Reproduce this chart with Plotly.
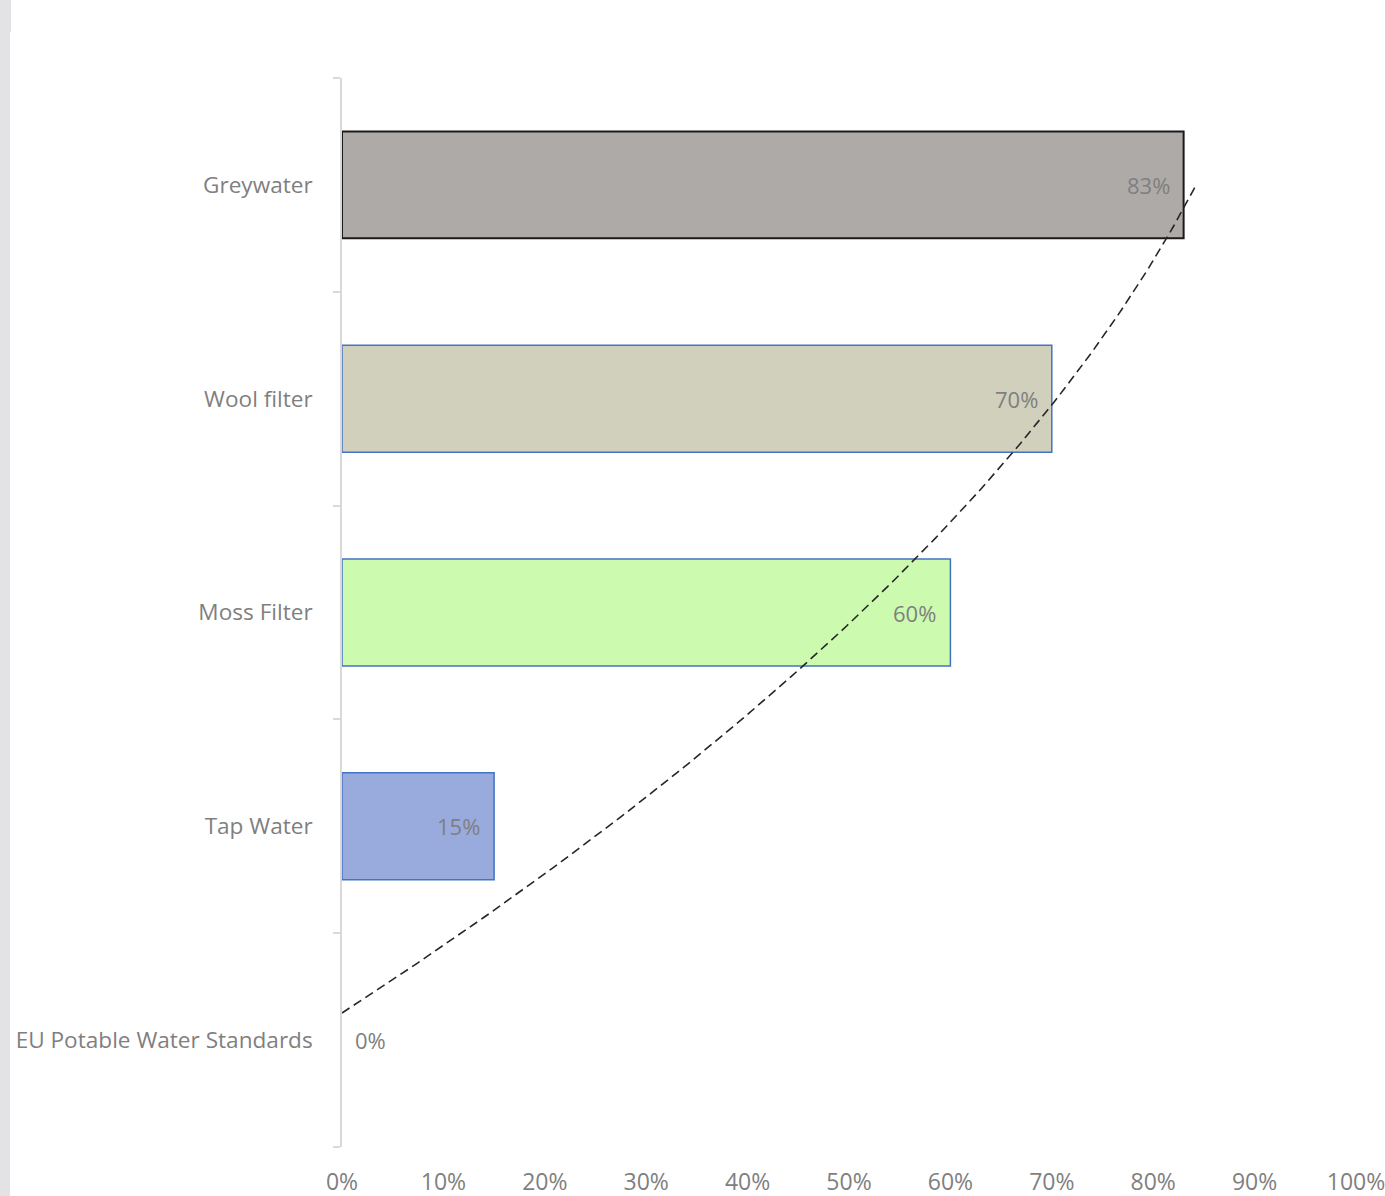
import numpy as np
import plotly.graph_objects as go

categories = ["EU Potable Water Standards", "Tap Water", "Moss Filter", "Wool filter", "Greywater"]
values = [0, 15, 60, 70, 83]  # percent
fill_colors = ["#FFFFFF", "#99AADD", "#CCFBB0", "#D1D0BD", "#AEAAA8"]
line_colors = ["#4472C4", "#4472C4", "#4472C4", "#4472C4", "#1A1A1A"]
x_tick_vals = [0, 10, 20, 30, 40, 50, 60, 70, 80, 90, 100]
x_tick_text = [f"{v}%" for v in x_tick_vals]

W, H = 1385, 1196
ML, MR, MT, MB = 342, 29, 78, 49
PW = W - ML - MR
PH = H - MT - MB

pos = list(range(1, len(categories) + 1))

# polynomial (order 2) trendline, as in the spreadsheet
coef = np.polyfit(pos, values, 2)
root = max(r.real for r in np.roots(coef) if abs(r.imag) < 1e-9 and r.real < pos[0] + 1)
t_idx = np.linspace(root, pos[-1], 200)
t_val = np.polyval(coef, t_idx)

FONT = "Open Sans"
GREY = "#7F7F7F"
FS = 23

line_widths = [0 if v == 0 else (2 if c == "#1A1A1A" else 1.5) for v, c in zip(values, line_colors)]

fig = go.Figure()
fig.add_trace(go.Bar(
    x=values, y=pos, orientation="h",
    marker=dict(color=fill_colors, line=dict(color=line_colors, width=line_widths)),
    width=0.5, hoverinfo="skip", showlegend=False,
))
fig.add_trace(go.Scatter(
    x=t_val, y=t_idx, mode="lines",
    line=dict(color="#262626", width=1.6, dash="9px,5px"),
    hoverinfo="skip", showlegend=False,
))

for v, p in zip(values, pos):
    if v > 0:
        fig.add_annotation(x=v, y=p, text=f"{v}%", showarrow=False, xanchor="right",
                           xshift=-12, font=dict(family=FONT, size=22, color=GREY))
    else:
        fig.add_annotation(x=v, y=p, text=f"{v}%", showarrow=False, xanchor="left",
                           xshift=11, font=dict(family=FONT, size=22, color=GREY))

# light grey strip on the left edge of the picture
fig.add_shape(type="rect", xref="paper", yref="paper",
              x0=-ML / PW, x1=-(ML - 10) / PW, y0=-MB / PH, y1=(H - MB) / PH,
              fillcolor="#E3E3E5", line=dict(width=0), layer="below")
fig.add_shape(type="rect", xref="paper", yref="paper",
              x0=-ML / PW, x1=-(ML - 11) / PW, y0=(H - MB - 32) / PH, y1=(H - MB) / PH,
              fillcolor="#E3E3E5", line=dict(width=0), layer="below")

fig.update_layout(
    width=W, height=H,
    margin=dict(l=ML, r=MR, t=MT, b=MB),
    paper_bgcolor="white", plot_bgcolor="white",
    font=dict(family=FONT, size=FS, color=GREY),
    xaxis=dict(range=[0, 100], tickvals=x_tick_vals, ticktext=x_tick_text,
               showgrid=False, zeroline=False, showline=False, ticks="", automargin=False,
               ticklabeloverflow="allow",
               ticklabelstandoff=19, tickfont=dict(size=FS, color=GREY)),
    yaxis=dict(range=[0.5, len(categories) + 0.5], tickvals=pos, ticktext=categories,
               showgrid=False, zeroline=False, showline=True, linecolor="#D9D9D9", linewidth=1.5,
               ticks="", ticklabelstandoff=23, automargin=False, ticklabeloverflow="allow",
               tickfont=dict(size=22.6, color=GREY),
               minor=dict(tickvals=[p - 0.5 for p in pos] + [pos[-1] + 0.5], ticks="outside",
                          ticklen=7, tickcolor="#D9D9D9", tickwidth=1.5)),
)

fig.write_html("out.html")
